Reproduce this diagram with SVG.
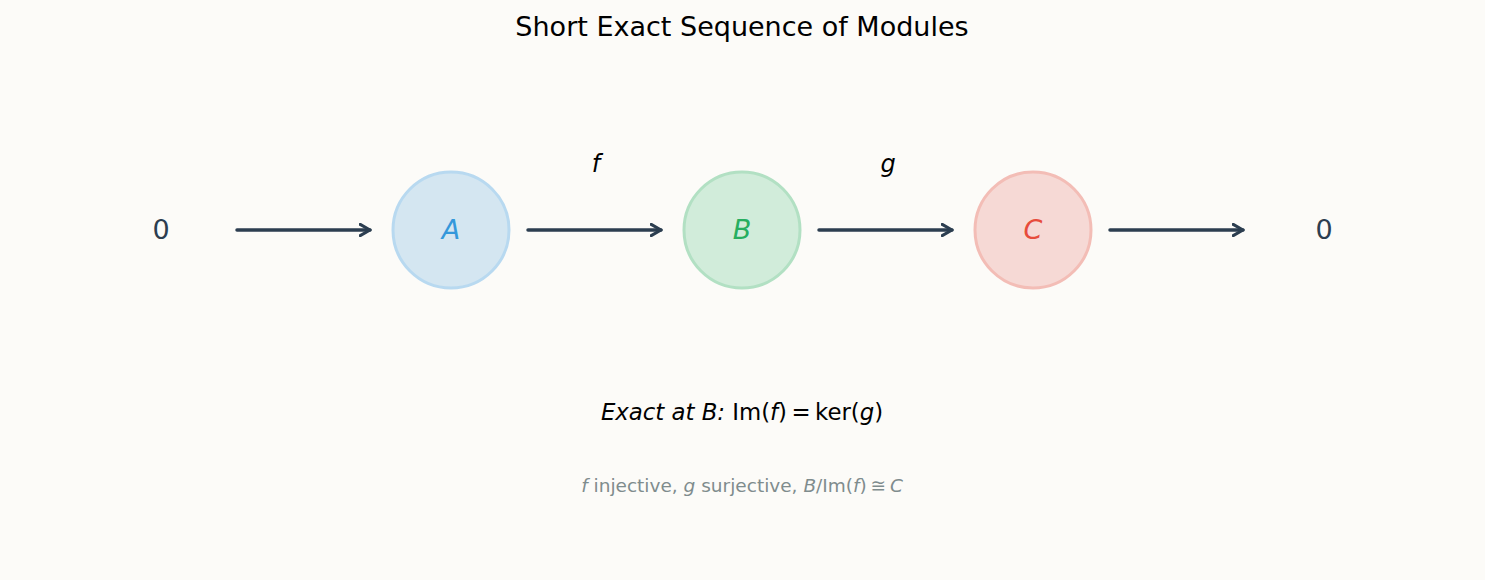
<svg xmlns="http://www.w3.org/2000/svg" width="1485" height="580" viewBox="0 0 1485 580">
<defs>
<marker id="ah" viewBox="0 0 10 10" refX="8" refY="5" markerWidth="4" markerHeight="4" orient="auto" markerUnits="strokeWidth">
<path d="M1,1 L8,5 L1,9" fill="none" stroke="#2c3e50" stroke-width="2.2" stroke-linecap="round" stroke-linejoin="round"/>
</marker>
<style>
text{font-family:"DejaVu Sans",sans-serif;}
.node circle{stroke-width:3;}
.lbl{font-size:27px;font-style:italic;text-anchor:middle;dominant-baseline:central;}
.zero{font-size:27px;fill:#2c3e50;text-anchor:middle;dominant-baseline:central;}
.map{font-size:24px;font-style:italic;text-anchor:middle;fill:#000;}
</style>
</defs>
<rect width="1485" height="580" fill="#fcfbf8"/>
<text x="742" y="36" font-size="27" text-anchor="middle" fill="#000">Short Exact Sequence of Modules</text>
<g id="zero-left"><text class="zero" x="161" y="229">0</text></g>
<g id="node-A" class="node"><circle cx="451" cy="230" r="58" fill="#d4e6f1" stroke="#b8d9f0"/><text class="lbl" x="451" y="229" fill="#3498db">A</text></g>
<g id="node-B" class="node"><circle cx="742" cy="230" r="58" fill="#d1ecda" stroke="#b2e0c3"/><text class="lbl" x="742" y="229" fill="#27ae60">B</text></g>
<g id="node-C" class="node"><circle cx="1033" cy="230" r="58" fill="#f6d9d5" stroke="#f3bdb6"/><text class="lbl" x="1033" y="229" fill="#e74c3c">C</text></g>
<g id="zero-right"><text class="zero" x="1324" y="229">0</text></g>
<g id="connectors" stroke="#2c3e50" stroke-width="3.5" stroke-linecap="round" fill="none">
<line x1="237" y1="230" x2="370" y2="230" marker-end="url(#ah)"/>
<line x1="528" y1="230" x2="661" y2="230" marker-end="url(#ah)"/>
<line x1="819" y1="230" x2="952" y2="230" marker-end="url(#ah)"/>
<line x1="1110" y1="230" x2="1243" y2="230" marker-end="url(#ah)"/>
</g>
<text class="map" x="596" y="172">f</text>
<text class="map" x="888" y="172">g</text>
<text x="742" y="420" font-size="22.8" text-anchor="middle" fill="#000"><tspan font-style="italic">Exact at B:</tspan> Im(<tspan font-style="italic">f</tspan>)<tspan font-size="14"> </tspan>=<tspan font-size="14"> </tspan>ker(<tspan font-style="italic">g</tspan>)</text>
<text x="742" y="492" font-size="18.5" text-anchor="middle" fill="#7f8c8d"><tspan font-style="italic">f</tspan> injective, <tspan font-style="italic">g</tspan> surjective, <tspan font-style="italic">B</tspan>/Im(<tspan font-style="italic">f</tspan>)<tspan font-size="12"> </tspan>≅<tspan font-size="12"> </tspan><tspan font-style="italic">C</tspan></text>
</svg>
